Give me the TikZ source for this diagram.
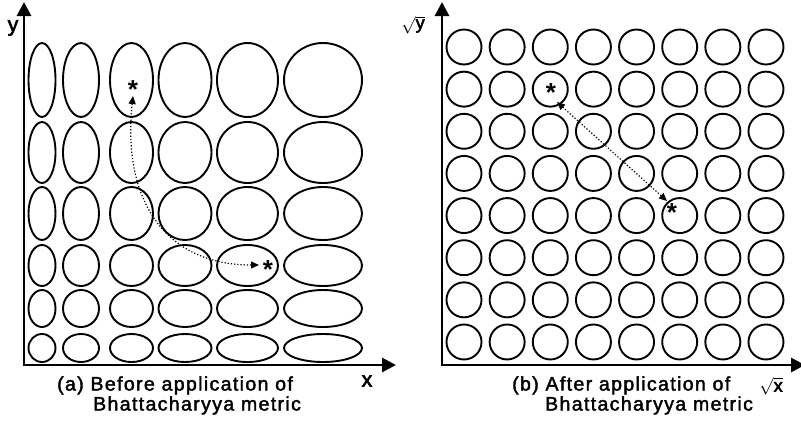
\documentclass[tikz,border=0pt]{standalone}
\usepackage{fontspec}
\setmainfont{Liberation Sans}
\newfontfamily\capfont[LetterSpace=7,FakeBold=2]{Liberation Sans}
\newfontfamily\labfont[FakeBold=3]{Liberation Sans}
\usetikzlibrary{arrows.meta}
\tikzset{
  axis/.style={line width=2.8pt,-{Triangle[length=14pt,width=14pt]}},
  blob/.style={line width=1.9pt},
  link/.style={line width=1.2pt,dotted,{Triangle[length=8pt,width=7pt]}-{Triangle[length=8pt,width=7pt]}},
  ast/.style={inner sep=0pt,font=\bfseries\fontsize{26}{26}\selectfont,yshift=-5pt},
  captext/.style={inner sep=0pt,anchor=base west,font=\capfont\fontsize{19.5}{19.5}\selectfont},
  lab/.style={inner sep=0pt,font=\labfont\fontsize{21}{21}\selectfont}
}
\begin{document}
\begin{tikzpicture}[x=1pt,y=-1pt]
\useasboundingbox (0,0) rectangle (801,424);
% ---------- left panel ----------
\coordinate (O1) at (24,365);
\coordinate (Y1) at (24,2);
\coordinate (X1) at (396,365);
\foreach \cx/\rx in {42/13.5,81/18,131.5/21.5,185/26.5,247.5/30.5,323/39}
  \foreach \cy/\ry in {80/37,152.5/30.5,213.5/26.5,265.5/20.5,308.5/18.5,348/14}
    \draw[blob] (\cx,\cy) ellipse [x radius=\rx pt, y radius=\ry pt];
\draw[axis] ([yshift=1.4pt]O1) -- (Y1);
\draw[axis] ([xshift=-1.4pt]O1) -- (X1);
\node[lab] (ly) at (13,28) {y};
\node[lab] (lx) at (367,381) {x};
\node[ast] (a1) at (133,85) {*};
\node[ast] (a2) at (268,265) {*};
\coordinate (a1s) at (133,96);
\coordinate (a2w) at (259,265);
\draw[link] (a1s) .. controls (122,200) and (165,265) .. (a2w);
\node[captext] (ca1) at (57,390.5) {(a) Before application of};
\node[captext] (ca2) at (93,410.5) {Bhattacharyya metric};
% ---------- right panel ----------
\coordinate (O2) at (442,365);
\coordinate (Y2) at (442,2);
\coordinate (X2) at (805,365);
\foreach \i in {0,...,7}
  \foreach \j in {0,...,7}
    \draw[blob] ({464+\i*43.14},{47+\j*42.14}) circle [radius=17.5pt];
\draw[axis] ([yshift=1.4pt]O2) -- (Y2);
\draw[axis] ([xshift=-1.4pt]O2) -- (X2);
\node[lab,font=\labfont\fontsize{18}{18}\selectfont] (lsy) at (413,25) {$\sqrt{\mbox{y}}$};
\node[lab,font=\labfont\fontsize{18}{18}\selectfont] (lsx) at (771,386) {$\sqrt{\mbox{x}}$};
\node[ast] (b1) at (551,88) {*};
\node[ast] (b2) at (672,208) {*};
\coordinate (b1e) at (557,102);
\coordinate (b2e) at (667,201);
\draw[link] (b1e) -- (b2e);
\node[captext] (cb1) at (512,390.5) {(b) After application of};
\node[captext] (cb2) at (545,410.5) {Bhattacharyya metric};
\end{tikzpicture}
\end{document}
